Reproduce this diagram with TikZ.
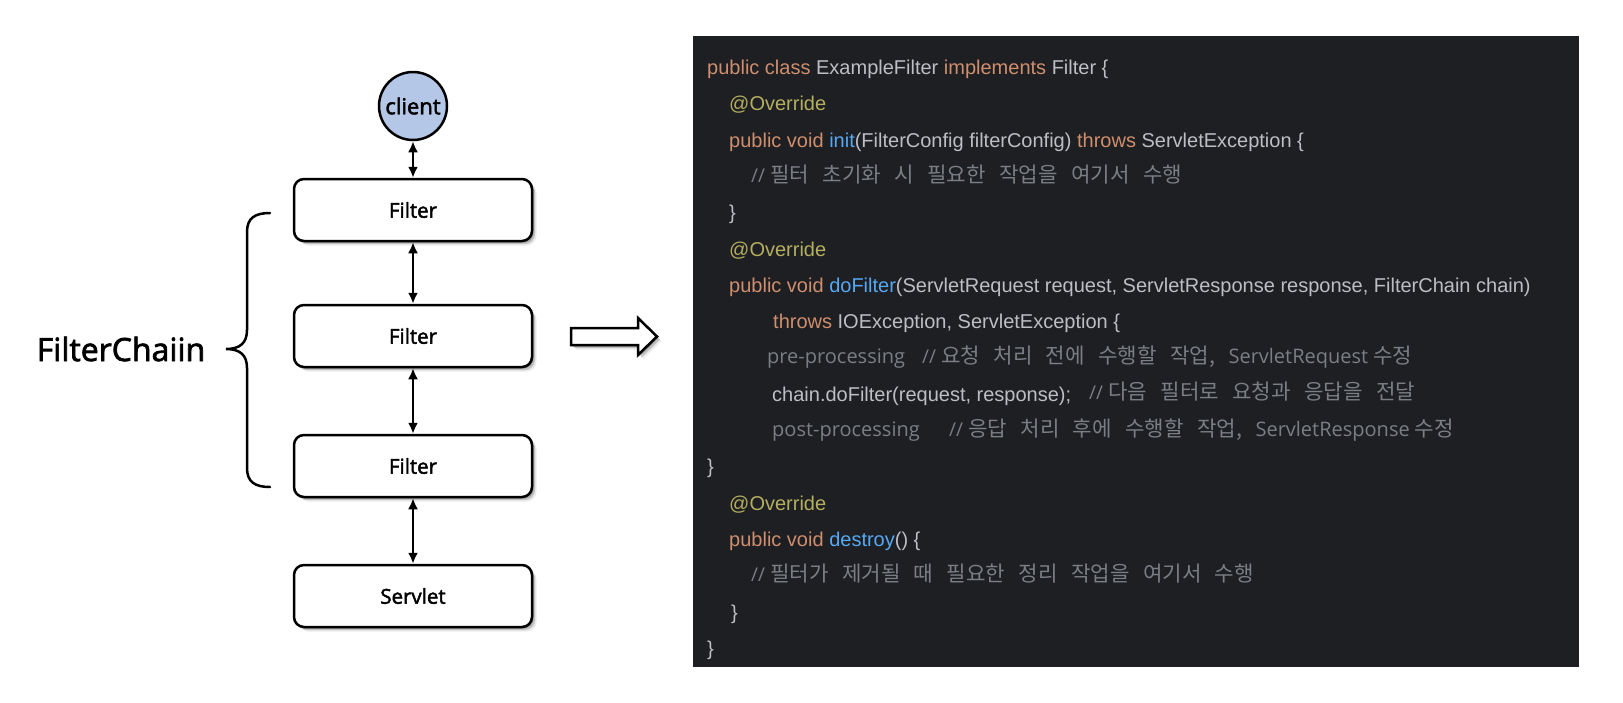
\documentclass[tikz,border=0pt]{standalone}
\usepackage{fontspec}
\setmainfont{Open Sans}
\newfontfamily\labelfont[FakeBold=2.2]{Open Sans}
\newfontfamily\codefont{Liberation Sans}
\newfontfamily\latfont{Open Sans}
\newfontfamily\krfont[WordSpace=2.82]{Noto Sans CJK KR}
\usetikzlibrary{arrows.meta,shadows}
\definecolor{codebg}{HTML}{1E1F22}
\definecolor{codetxt}{HTML}{BCBEC4}
\definecolor{kwc}{HTML}{CF8E6D}
\definecolor{fnc}{HTML}{56A8F5}
\definecolor{anc}{HTML}{B3AE60}
\definecolor{cmc}{HTML}{7A7E85}
\definecolor{clientfill}{HTML}{B4C7E7}
\newcommand\codekw[1]{\textcolor{kwc}{#1}}
\newcommand\codefn[1]{\textcolor{fnc}{#1}}
\newcommand\codean[1]{\textcolor{anc}{#1}}
\newcommand\cmlat[1]{{\latfont\fontsize{20}{24}\selectfont #1}}
\newcommand\slashes{{\latfont\fontsize{19}{24}\selectfont //}\kern5pt}
\begin{document}
\begin{tikzpicture}[x=1pt,y=-1pt,
  softshadow/.style={drop shadow={shadow xshift=1.5pt,shadow yshift=-1.5pt,opacity=.3,fill=black!70},
                     drop shadow={shadow xshift=3pt,shadow yshift=-3pt,opacity=.18,fill=black},
                     drop shadow={shadow xshift=4.5pt,shadow yshift=-4.5pt,opacity=.08,fill=black}},
  box/.style={draw=black,line width=2.5pt,rounded corners=10pt,fill=white,
              minimum width=238pt,minimum height=62pt,inner sep=0pt,
              font=\labelfont\fontsize{20.5}{24}\selectfont,softshadow},
  circ/.style={circle,draw=black,line width=2.5pt,fill=clientfill,minimum size=68pt,
               inner sep=0pt,font=\labelfont\fontsize{22}{26}\selectfont},
  link/.style={{Latex[length=11pt,width=10pt]}-{Latex[length=11pt,width=10pt]},line width=2.3pt},
  codeline/.style={anchor=base west,inner sep=0pt,text=codetxt,
                   font=\codefont\fontsize{20}{24}\selectfont},
  cmtline/.style={anchor=base west,inner sep=0pt,text=cmc,
                  font=\krfont\fontsize{21.2}{24}\selectfont}]
\path[use as bounding box] (0,0) rectangle (1623,702);
\fill[white] (0,0) rectangle (1623,702);

% ---------- left diagram ----------
\node[circ] (client) at (413,106) {client};
\node[box] (f1) at (413,210) {Filter};
\node[box] (f2) at (413,336) {Filter};
\node[box] (f3) at (413,466) {Filter};
\node[box] (servlet) at (413,596) {Servlet};
\draw[link] (client) -- (f1);
\draw[link] (f1) -- (f2);
\draw[link] (f2) -- (f3);
\draw[link] (f3) -- (servlet);

\draw[line width=2.5pt,line cap=round]
  (270,213) .. controls (255,213) and (247,218) .. (247,232) -- (247,330)
  .. controls (247,343) and (240,349) .. (226,349)
  .. controls (240,349) and (247,355) .. (247,368) -- (247,468)
  .. controls (247,482) and (255,487) .. (270,487);
\node[inner sep=0pt,font=\labelfont\fontsize{32}{36}\selectfont] (chainlabel) at (121,349) {FilterChaiin};

\draw[line width=2.5pt,fill=white,line join=miter,softshadow]
  (571,328) -- (638,328) -- (638,318) -- (657,336.5) -- (638,355) -- (638,345) -- (571,345) -- cycle;

% ---------- code panel ----------
\fill[codebg] (693,36) rectangle (1579,667);

\node[codeline] (l0) at (707,74.5) {\codekw{public class} ExampleFilter \codekw{implements} Filter \{};
\node[codeline] (l1) at (729,110.8) {\codean{@Override}};
\node[codeline] (l2) at (729,147.1) {\codekw{public void} \codefn{init}(FilterConfig filterConfig) \codekw{throws} ServletException \{};
\node[cmtline] (l3) at (751,182) {\slashes 필터 초기화 시 필요한 작업을 여기서 수행};
\node[codeline] (l4) at (729,219.7) {\}};
\node[codeline] (l5) at (729,256.0) {\codean{@Override}};
\node[codeline] (l6) at (729,292.3) {\codekw{public void} \codefn{doFilter}(ServletRequest request, ServletResponse response, FilterChain chain)};
\node[codeline] (l7) at (773,328.6) {\codekw{throws} IOException, ServletException \{};
\node[cmtline] (l8a) at (767,363.4) {\cmlat{pre-processing}};
\node[cmtline] (l8b) at (922,363.4) {\slashes 요청 처리 전에 수행할 작업, \cmlat{ServletRequest }수정};
\node[codeline] (l9a) at (772,401.2) {chain.doFilter(request, response);};
\node[cmtline] (l9b) at (1089,399.7) {\slashes 다음 필터로 요청과 응답을 전달};
\node[cmtline] (l10a) at (772,436) {\cmlat{post-processing}};
\node[cmtline] (l10b) at (949,436) {\slashes 응답 처리 후에 수행할 작업, \cmlat{ServletResponse }수정};
\node[codeline] (l11) at (707,473.8) {\}};
\node[codeline] (l12) at (729,510.1) {\codean{@Override}};
\node[codeline] (l13) at (729,546.4) {\codekw{public void} \codefn{destroy}() \{};
\node[cmtline] (l14) at (751,581.2) {\slashes 필터가 제거될 때 필요한 정리 작업을 여기서 수행};
\node[codeline] (l15) at (731,619.0) {\}};
\node[codeline] (l16) at (707,655.3) {\}};
\end{tikzpicture}
\end{document}
